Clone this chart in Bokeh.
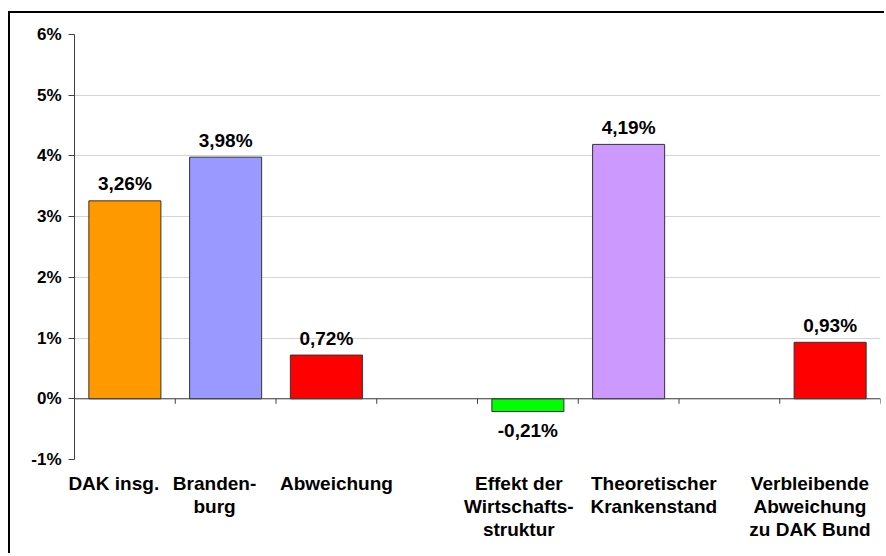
from bokeh.plotting import figure
from bokeh.models import ColumnDataSource, Range1d, FixedTicker, LinearAxis, Span
from bokeh.core.properties import value
from bokeh.embed import file_html
from bokeh.resources import INLINE

categories = ["DAK insg.", "Branden-\nburg", "Abweichung", "",
              "Effekt der\nWirtschafts-\nstruktur", "Theoretischer\nKrankenstand", "",
              "Verbleibende\nAbweichung\nzu DAK Bund"]
values = [3.26, 3.98, 0.72, None, -0.21, 4.19, None, 0.93]
colors = ["#FF9900", "#9999FF", "#FF0000", None, "#00FF00", "#CC99FF", None, "#FF0000"]
y_ticks = [-1, 0, 1, 2, 3, 4, 5, 6]
y_tick_labels = ["-1%", "0%", "1%", "2%", "3%", "4%", "5%", "6%"]

# horizontal nudges of category labels (in category widths), as laid out in the original
label_nudge = [-0.11, -0.11, 0.10, 0.0, -0.09, 0.25, 0.0, -0.20]

FONT = "Liberation Sans"

xs, tops, fills, labels, offs = [], [], [], [], []
for i, (v, c) in enumerate(zip(values, colors)):
    if v is None:
        continue
    xs.append(i + 1)
    tops.append(v)
    fills.append(c)
    labels.append(f"{v:.2f}".replace(".", ",") + "%")
    offs.append(-17 if v >= 0 else 19)

src = ColumnDataSource(dict(x=xs, top=tops, fill=fills, label=labels, off=offs))

p = figure(width=876, height=542, output_backend="svg", toolbar_location=None,
           x_range=Range1d(0.5, len(categories) + 0.5),
           y_range=Range1d(y_ticks[0], y_ticks[-1]),
           min_border_left=64, min_border_right=6, min_border_top=21, min_border_bottom=96,
           x_axis_location=None, y_axis_location=None)
p.outline_line_color = None
p.background_fill_color = "white"
p.border_fill_color = "white"
p.styles = {"border-top": "2px solid black", "border-left": "2px solid black",
            "margin-top": "11px", "margin-left": "8px"}

# y axis
yax = LinearAxis(ticker=FixedTicker(ticks=y_ticks, minor_ticks=[]))
yax.major_label_overrides = {t: l for t, l in zip(y_ticks, y_tick_labels)}
yax.axis_line_color = "#404040"
yax.major_tick_line_color = "#404040"
yax.major_tick_out = 6
yax.major_tick_in = 0
yax.minor_tick_line_color = None
yax.major_label_standoff = 7
yax.major_label_text_font = FONT
yax.major_label_text_font_style = "bold"
yax.major_label_text_font_size = "17px"
yax.major_label_text_color = "black"
p.add_layout(yax, "left")

# grid
p.ygrid.ticker = FixedTicker(ticks=y_ticks)
p.ygrid.grid_line_color = "#d4d4d4"
p.xgrid.grid_line_color = None

# zero line with boundary ticks
p.add_layout(Span(location=0, dimension="width", line_color="#404040", line_width=1))
bounds = [i + 1.5 for i in range(len(categories))]
p.ray(x=bounds, y=[0] * len(bounds), length=5, length_units="screen",
      angle=-90, angle_units="deg", line_color="#404040", line_width=1)

p.vbar(x="x", top="top", bottom=0, width=0.715, source=src,
       fill_color="fill", line_color="#333333", line_width=1)

p.text(x="x", y="top", text="label", y_offset="off", source=src,
       text_align="center", text_baseline="alphabetic",
       text_font=value(FONT), text_font_style="bold", text_font_size="19px",
       text_color="black")

# category labels on a bottom axis
cat_ticks, cat_over = [], {}
for i, (cat, dx) in enumerate(zip(categories, label_nudge)):
    if not cat:
        continue
    t = round(i + 1 + dx, 2)
    cat_ticks.append(t)
    cat_over[t] = cat
cax = LinearAxis(ticker=FixedTicker(ticks=cat_ticks, minor_ticks=[]))
cax.major_label_overrides = cat_over
cax.axis_line_color = None
cax.major_tick_line_color = None
cax.minor_tick_line_color = None
cax.major_tick_out = 0
cax.major_tick_in = 0
cax.major_label_standoff = 13
cax.major_label_text_font = FONT
cax.major_label_text_font_style = "bold"
cax.major_label_text_font_size = "19px"
cax.major_label_text_line_height = 1.1
cax.major_label_text_color = "black"
p.add_layout(cax, "below")

open("out.html", "w").write(file_html(p, INLINE))
